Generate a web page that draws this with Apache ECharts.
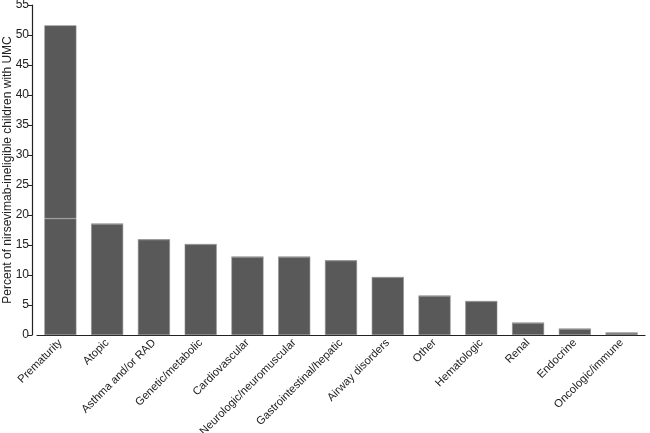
<!DOCTYPE html>
<html>
<head>
<meta charset="utf-8">
<script src="https://cdn.jsdelivr.net/npm/echarts@6/dist/echarts.min.js"></script>
<style>
  html, body { margin: 0; padding: 0; background: #fff; }
  #chart { width: 650px; height: 433px; }
</style>
</head>
<body>
<div id="chart"></div>
<script>
const categories = [
  'Prematurity', 'Atopic', 'Asthma and/or RAD', 'Genetic/metabolic', 'Cardiovascular',
  'Neurologic/neuromuscular', 'Gastrointestinal/hepatic', 'Airway disorders', 'Other',
  'Hematologic', 'Renal', 'Endocrine', 'Oncologic/immune'
]
// percent of children
const percentValues = [51.6, 18.5, 15.9, 15.1, 13.0, 13.0, 12.4, 9.6, 6.5, 5.6, 2.0, 1.0, 0.35]
// faint split line inside the Prematurity bar
const prematuritySplit = 19.4
const yTicks = { min: 0, max: 55, interval: 5 }

const lowerPart = percentValues.map((v, i) => (i === 0 ? prematuritySplit : v))
const upperPart = percentValues.map((v, i) => (i === 0 ? v - prematuritySplit : 0))

const chart = echarts.init(document.getElementById('chart'))
const font = 'Liberation Sans, Arial, sans-serif'
const barStyle = { color: '#595959', borderColor: '#8c8c8c', borderWidth: 0.6 }

chart.setOption({
  animation: false,
  textStyle: { fontFamily: font },
  grid: { left: 37, right: 5, top: 5, bottom: 98, outerBoundsMode: 'none', containLabel: false },
  xAxis: {
    type: 'category',
    data: categories,
    axisLine: { lineStyle: { color: '#222', width: 1.2 } },
    axisTick: { alignWithLabel: true, length: 4, lineStyle: { color: '#222' } },
    axisLabel: { rotate: 45, color: '#222', fontSize: 11.2, margin: 6, interval: 0 }
  },
  yAxis: {
    type: 'value',
    min: yTicks.min,
    max: yTicks.max,
    interval: yTicks.interval,
    offset: 5,
    name: 'Percent of nirsevimab-ineligible children with UMC',
    nameLocation: 'middle',
    nameGap: 18,
    nameMoveOverlap: false,
    nameTextStyle: { color: '#222', fontSize: 12 },
    splitLine: { show: false },
    axisLine: { show: true, lineStyle: { color: '#222', width: 1.2 } },
    axisTick: { show: true, length: 4, lineStyle: { color: '#222' } },
    axisLabel: { color: '#222', fontSize: 12, margin: 3 }
  },
  series: [
    {
      type: 'bar',
      stack: 'umc',
      barWidth: 32,
      data: lowerPart,
      itemStyle: barStyle
    },
    {
      type: 'bar',
      stack: 'umc',
      barWidth: 32,
      data: upperPart,
      itemStyle: barStyle
    }
  ]
})
</script>
</body>
</html>
